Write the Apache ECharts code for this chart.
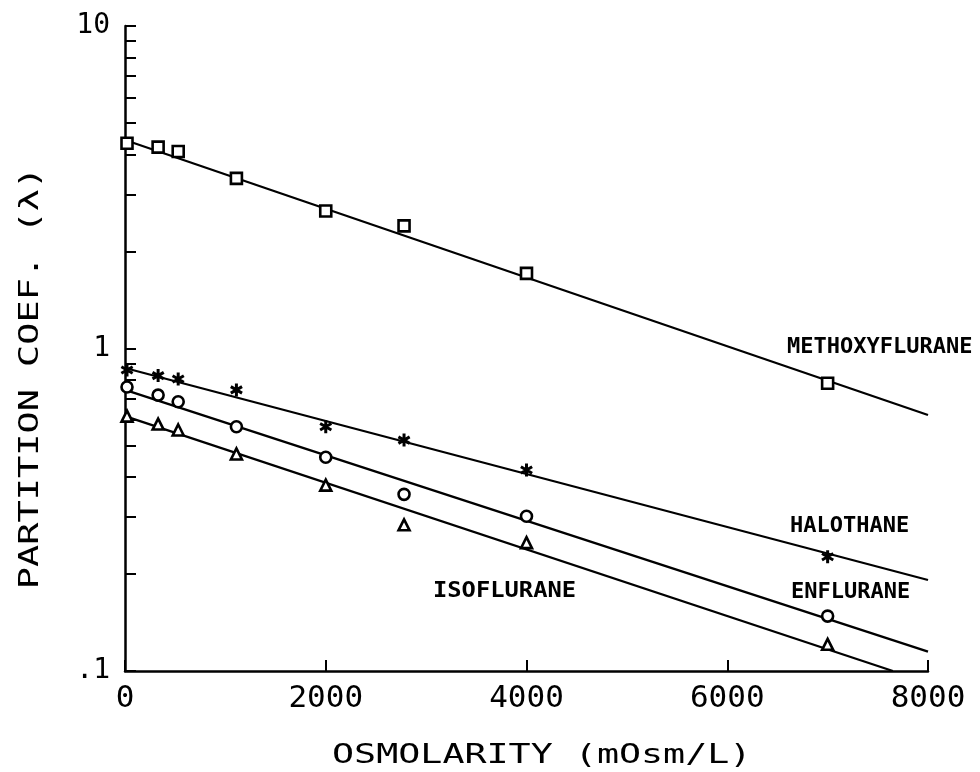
<!DOCTYPE html>
<html><head><meta charset="utf-8">
<script src="https://cdn.jsdelivr.net/npm/echarts@6/dist/echarts.min.js"></script>
<style>html,body{margin:0;padding:0;background:#fff}#c{width:980px;height:772px}</style>
</head><body><div id="c"></div>
<script>
// ---- data ----
const osmolarity = [20, 330, 530, 1110, 2000, 2780, 4000, 7000];
const methoxyflurane = [4.33, 4.21, 4.08, 3.37, 2.67, 2.40, 1.71, 0.780];
const halothane = [0.858, 0.824, 0.804, 0.744, 0.572, 0.520, 0.420, 0.226];
const enflurane = [0.760, 0.717, 0.684, 0.572, 0.460, 0.353, 0.302, 0.148];
const isoflurane = [0.617, 0.583, 0.559, 0.471, 0.377, 0.284, 0.250, 0.121];

// fitted regression lines (end points)
const methoxyFitX = [0, 8000];
const methoxyFitY = [4.43, 0.622];
const halothaneFitX = [0, 8000];
const halothaneFitY = [0.870, 0.1915];
const enfluraneFitX = [0, 8000];
const enfluraneFitY = [0.744, 0.1148];
const isofluraneFitX = [0, 7650];
const isofluraneFitY = [0.617, 0.1];

const seriesNames = ['METHOXYFLURANE', 'HALOTHANE', 'ENFLURANE', 'ISOFLURANE'];
const yTickValues = [0.1,0.2,0.3,0.4,0.5,0.6,0.7,0.8,0.9,1,2,3,4,5,6,7,8,9,10];
const yLabelValues = [0.1, 1, 10];
const yLabelTexts = ['.1', '1', '10'];
const xTitle = 'OSMOLARITY (mOsm/L)';
const yTitle = 'PARTITION COEF. (λ)';

const zip = (xs, ys) => xs.map((x, i) => [x, ys[i]]);
const MONO = '"DejaVu Sans Mono", monospace';
const starPath = 'path://M5,0L5,10M0.67,2.5L9.33,7.5M0.67,7.5L9.33,2.5';

function scatter(name, ys, symbol, size, bw) {
  return {
    name, type: 'scatter', data: zip(osmolarity, ys), symbol, symbolSize: size,
    symbolKeepAspect: true, z: 5,
    itemStyle: { color: symbol === starPath ? '#000' : '#fff', borderColor: '#000', borderWidth: bw, opacity: 1 },
    emphasis: { disabled: true }
  };
}
function fit(xs, ys) {
  return {
    type: 'line', data: zip(xs, ys), symbol: 'none', z: 3,
    lineStyle: { color: '#000', width: 2.3 }, emphasis: { disabled: true }
  };
}

const chart = echarts.init(document.getElementById('c'), null, { renderer: 'canvas' });
chart.setOption({
  animation: false,
  backgroundColor: '#fff',
  grid: { left: 125, right: 52, top: 26, bottom: 101, containLabel: false },
  xAxis: {
    type: 'value', min: 0, max: 8000, interval: 2000,
    axisLine: { lineStyle: { color: '#000', width: 2.5 } },
    axisTick: { inside: false, length: -11, lineStyle: { color: '#000', width: 2 } },
    axisLabel: { color: '#000', fontFamily: MONO, fontSize: 31, margin: 12,
      formatter: v => String(v) },
    splitLine: { show: false }
  },
  yAxis: {
    type: 'log', logBase: 10, min: 0.1, max: 10,
    axisLine: { lineStyle: { color: '#000', width: 2.5 } },
    axisTick: { inside: false, length: -11, customValues: yTickValues,
      lineStyle: { color: '#000', width: 2 } },
    axisLabel: { color: '#000', fontFamily: MONO, fontSize: 28, margin: 15,
      customValues: yLabelValues,
      formatter: v => { const i = yLabelValues.findIndex(t => Math.abs(t - v) < 1e-9); return i >= 0 ? yLabelTexts[i] : ''; } },
    splitLine: { show: false }, minorTick: { show: false }
  },
  series: [
    fit(methoxyFitX, methoxyFitY),
    fit(halothaneFitX, halothaneFitY),
    fit(enfluraneFitX, enfluraneFitY),
    fit(isofluraneFitX, isofluraneFitY),
    scatter(seriesNames[0], methoxyflurane, 'rect', 11, 2.6),
    scatter(seriesNames[1], halothane, starPath, 13, 3),
    scatter(seriesNames[2], enflurane, 'circle', 11, 2.6),
    scatter(seriesNames[3], isoflurane, 'triangle', 11, 2.6)
  ],
  graphic: [
    { type: 'text', x: 541.7, y: 756, scaleX: 1.41,
      style: { text: xTitle, font: '26px ' + MONO, fill: '#000', align: 'center', verticalAlign: 'middle' } },
    { type: 'text', x: 31, y: 378, rotation: Math.PI / 2, scaleX: 1.42,
      style: { text: yTitle, font: '26px ' + MONO, fill: '#000', align: 'center', verticalAlign: 'middle' } },
    { type: 'text', x: 787, y: 347,
      style: { text: seriesNames[0], font: 'bold 22px ' + MONO, fill: '#000', align: 'left', verticalAlign: 'middle' } },
    { type: 'text', x: 790, y: 526,
      style: { text: seriesNames[1], font: 'bold 22px ' + MONO, fill: '#000', align: 'left', verticalAlign: 'middle' } },
    { type: 'text', x: 791, y: 592,
      style: { text: seriesNames[2], font: 'bold 22px ' + MONO, fill: '#000', align: 'left', verticalAlign: 'middle' } },
    { type: 'text', x: 433, y: 591, scaleX: 1.08,
      style: { text: seriesNames[3], font: 'bold 22px ' + MONO, fill: '#000', align: 'left', verticalAlign: 'middle' } }
  ]
});
</script>
</body></html>
